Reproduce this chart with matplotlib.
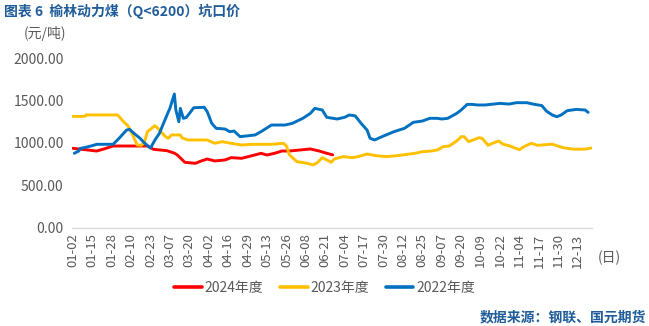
import matplotlib
matplotlib.use("Agg")
import matplotlib.pyplot as plt
import pandas as pd

plt.rcParams['font.family'] = ['Noto Sans CJK SC', 'DejaVu Sans']

# category axis: MM-DD labels (leap-year calendar, holidays skipped)
start_day = "01-02"
end_day = "12-22"
skipped_days = ["04-05", "05-01", "10-01", "10-02", "10-03", "10-04", "10-05", "10-06"]
tick_step = 13

# 2024
d24 = ["01-02", "01-18", "01-23", "01-29", "02-21", "02-25", "03-05", "03-10", "03-12", "03-17",
       "03-24", "03-28", "04-01", "04-07", "04-14", "04-18", "04-25", "05-03", "05-09", "05-13",
       "05-18", "05-23", "05-28", "06-04", "06-11", "06-17", "06-22", "06-26"]
v24 = [937, 905, 930, 964, 964, 925, 909, 880, 858, 772,
       760, 788, 811, 788, 800, 827, 819, 850, 878, 858,
       878, 905, 905, 917, 929, 905, 878, 860]

# 2023
d23 = ["01-02", "01-10", "01-11", "02-01", "02-05", "02-08", "02-11", "02-14", "02-17", "02-19",
       "02-21", "02-26", "02-28", "03-04", "03-06", "03-08", "03-14", "03-15", "03-19", "04-01",
       "04-07", "04-12", "04-18", "04-25", "05-03", "05-16", "05-24", "05-26", "05-28", "06-02",
       "06-09", "06-13", "06-16", "06-19", "06-22", "06-25", "06-27", "07-03", "07-09", "07-13",
       "07-19", "07-25", "08-01", "08-08", "08-20", "08-25", "08-31", "09-04", "09-08", "09-12",
       "09-17", "09-20", "09-22", "09-25", "10-08", "10-10", "10-14", "10-17", "10-21", "10-24",
       "10-28", "11-04", "11-07", "11-12", "11-16", "11-26", "12-03", "12-10", "12-18", "12-22"]
v23 = [1313, 1313, 1330, 1330, 1250, 1200, 1100, 976, 972, 1015,
       1133, 1203, 1172, 1074, 1055, 1094, 1094, 1062, 1035, 1035,
       996, 1015, 996, 976, 984, 984, 996, 965, 860, 780,
       760, 741, 772, 827, 800, 772, 811, 839, 827, 839,
       870, 850, 839, 850, 878, 897, 905, 917, 957, 964,
       1023, 1074, 1074, 1015, 1062, 1055, 972, 996, 1023, 985,
       968, 920, 957, 996, 972, 986, 945, 927, 927, 940]

# 2022
d22 = ["01-03", "01-06", "01-07", "01-11", "01-15", "01-18", "01-29", "02-02", "02-07", "02-09",
       "02-12", "02-16", "02-19", "02-23", "02-26", "02-29", "03-02", "03-06", "03-07", "03-10",
       "03-11", "03-13", "03-14", "03-16", "03-18", "03-23", "03-30", "04-01", "04-04", "04-08",
       "04-14", "04-17", "04-20", "04-24", "04-27", "05-05", "05-09", "05-16", "05-25", "05-30",
       "06-06", "06-11", "06-14", "06-19", "06-22", "06-29", "07-04", "07-07", "07-11", "07-15",
       "07-19", "07-21", "07-24", "07-29", "08-06", "08-13", "08-19", "08-25", "08-30", "09-04",
       "09-07", "09-11", "09-17", "09-20", "09-24", "09-27", "10-07", "10-12", "10-22", "10-28",
       "11-02", "11-09", "11-13", "11-19", "11-22", "11-26", "11-29", "12-02", "12-06", "12-12",
       "12-18", "12-20"]
v22 = [878, 905, 935, 950, 968, 984, 984, 1055, 1152, 1160,
       1113, 1055, 1000, 940, 1035, 1113, 1200, 1368, 1407, 1576,
       1388, 1250, 1407, 1290, 1300, 1415, 1420, 1368, 1231, 1172,
       1164, 1133, 1140, 1074, 1080, 1094, 1133, 1211, 1211, 1231,
       1290, 1348, 1407, 1388, 1302, 1282, 1302, 1329, 1320, 1231,
       1152, 1055, 1035, 1074, 1133, 1172, 1243, 1258, 1290, 1290,
       1282, 1290, 1348, 1388, 1454, 1454, 1447, 1447, 1466, 1458,
       1474, 1474, 1458, 1440, 1376, 1329, 1309, 1330, 1380, 1395,
       1388, 1360]

series = [("2024年度", d24, v24, "#FF0000"),
          ("2023年度", d23, v23, "#FFC000"),
          ("2022年度", d22, v22, "#0070C0")]

all_days = pd.date_range(pd.Timestamp("2024-" + start_day), pd.Timestamp("2024-" + end_day), freq="D")
cats = [d.strftime("%m-%d") for d in all_days if d.strftime("%m-%d") not in skipped_days]
cat_index = {c: i for i, c in enumerate(cats)}
ncat = len(cats)


def pos(ds):
    return [cat_index[s] for s in ds]


fig = plt.figure(figsize=(6.49, 3.26), dpi=100)
ax = fig.add_axes([0.111, 0.301, 0.801, 0.521])

for name, ds, vs, c in series:
    ax.plot(pos(ds), vs, color=c, lw=2.1, label=name, solid_capstyle="round", solid_joinstyle="round")

ax.set_xlim(-0.5, ncat - 0.5)
ax.set_ylim(0, 2000)
yt = [0, 500, 1000, 1500, 2000]
ax.set_yticks(yt)
ax.set_yticklabels([f"{v:.2f}" for v in yt], color="#595959", fontsize=10)
tick_idx = list(range(0, ncat, tick_step))
ax.set_xticks(tick_idx)
ax.set_xticklabels([cats[i] for i in tick_idx], rotation=90, color="#595959", fontsize=9.5)
ax.tick_params(axis="both", length=0)
ax.tick_params(axis="y", pad=6)
ax.tick_params(axis="x", pad=4)
for s in ["top", "right", "left"]:
    ax.spines[s].set_visible(False)
ax.spines["bottom"].set_color("#D9D9D9")
ax.spines["bottom"].set_linewidth(1.0)

fig.text(0.006, 0.965, "图表 6  榆林动力煤（Q<6200）坑口价", color="#1F5C99", fontsize=10,
         fontweight="bold", va="center", ha="left")
fig.text(0.036, 0.898, "(元/吨)", color="#595959", fontsize=10, va="center", ha="left")
fig.text(0.921, 0.208, "(日)", color="#595959", fontsize=10, va="center", ha="left")
fig.text(0.995, 0.025, "数据来源：钢联、国元期货", color="#1F5C99", fontsize=10,
         fontweight="bold", va="center", ha="right")

leg = fig.legend(loc="center", bbox_to_anchor=(0.5, 0.118), ncol=3, frameon=False,
                 fontsize=10, handlelength=2.0, handletextpad=0.2, columnspacing=1.2)
for line in leg.get_lines():
    line.set_linewidth(2.6)
for t in leg.get_texts():
    t.set_color("#595959")

fig.savefig("out.png", dpi=100)
